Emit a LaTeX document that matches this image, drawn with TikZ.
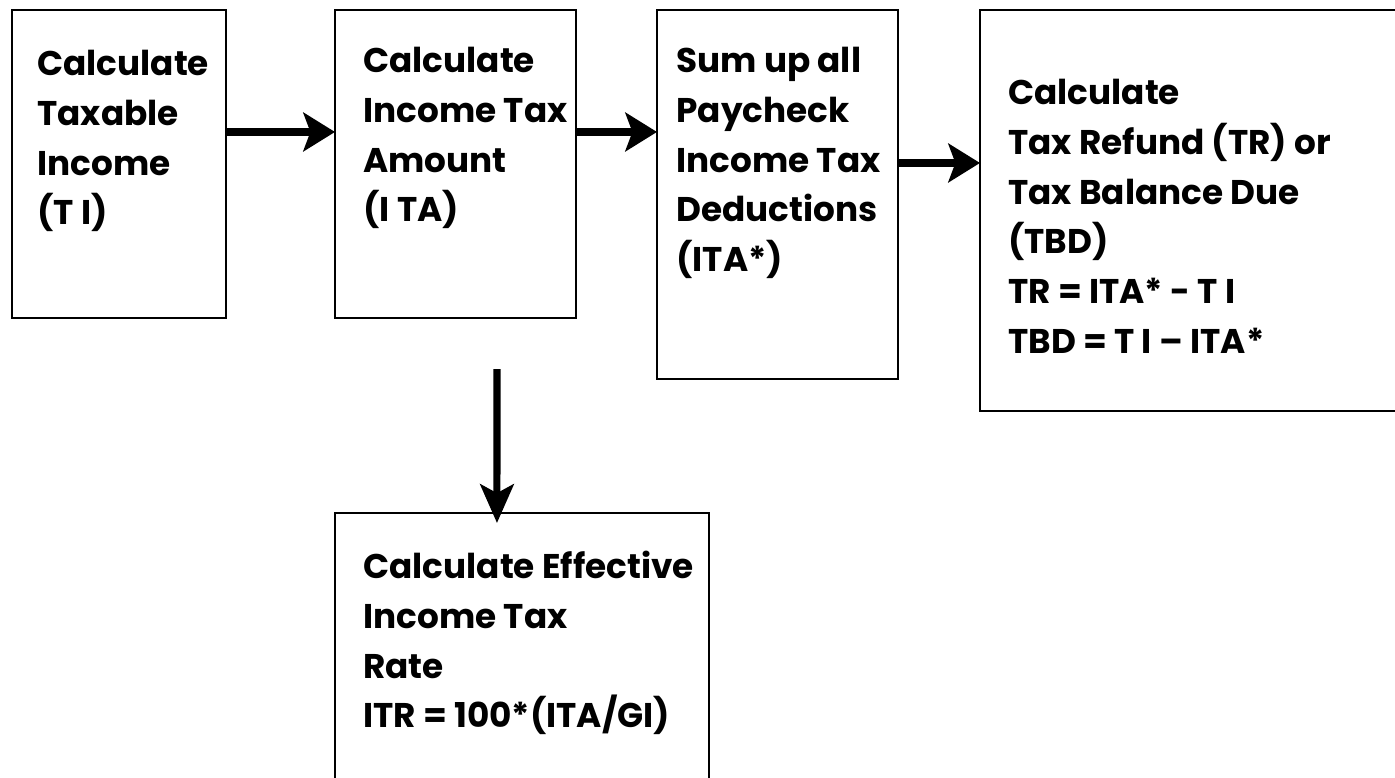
\documentclass[tikz,border=0pt]{standalone}
\usepackage{fontspec}
\setmainfont{Poppins}
\usetikzlibrary{positioning}
\usetikzlibrary{arrows.meta}
\tikzset{
  box/.style      = {shape=rectangle, draw, line width=1.1pt,
                     anchor=north west, outer sep=0pt, inner sep=0pt},
  boxtext/.style  = {align=left, inner sep=0pt,
                     font=\fontsize{19.5}{28.3}\selectfont\bfseries},
  flow/.style     = {-{Stealth[length=18pt,width=22pt,inset=4pt]}, line width=4.5pt},
  downflow/.style = {-{Stealth[length=22pt,width=19pt,inset=5pt]}, line width=4pt}
}

\begin{document}
\begin{tikzpicture}[x=0.02cm, y=-0.02cm]
  \useasboundingbox (0,0) rectangle (1395,777);
  % boxes
  \node [box, minimum width=4.28cm, minimum height=6.16cm] (ti) at (12,10) {};
  \node [box, minimum width=4.82cm, minimum height=6.16cm] (ita) at (335,10) {};
  \node [box, minimum width=4.82cm, minimum height=7.38cm] (ded) at (657,10) {};
  \node [box, minimum width=8.40cm, minimum height=8.02cm] (due) at (980,10) {};
  \node [box, minimum width=7.48cm, minimum height=5.54cm] (itr) at (335,513) {};
  % texts
  \node [boxtext, below right=0.80cm and 0.50cm of ti.north west] (tiText)
    {Calculate\\Taxable\\Income\\(T I)};
  \node [boxtext, below right=0.74cm and 0.56cm of ita.north west] (itaText)
    {Calculate\\Income Tax\\Amount\\(I TA)};
  \node [boxtext, below right=0.74cm and 0.38cm of ded.north west] (dedText)
    {Sum up all\\Paycheck\\Income Tax\\Deductions\\(ITA*)};
  \node [boxtext, below right=1.38cm and 0.56cm of due.north west] (dueText)
    {Calculate\\Tax Refund (TR) or\\Tax Balance Due\\(TBD)\\TR = ITA* - T I\\TBD = T I – ITA*};
  \node [boxtext, below right=0.76cm and 0.56cm of itr.north west] (itrText)
    {Calculate Effective\\Income Tax\\Rate\\ITR = 100*(ITA/GI)};
  % arrows
  \coordinate (itrTop) at (497,369);
  \path[flow] ([yshift=0.64cm]ti.east) edge ([yshift=0.64cm]ita.west);
  \path[flow] ([yshift=0.64cm]ita.east) edge ([yshift=1.25cm]ded.west);
  \path[flow] ([yshift=0.63cm]ded.east) edge ([yshift=0.95cm]due.west);
  \path[downflow] (itrTop) edge ([xshift=-0.5cm, yshift=-0.2cm]itr.north);
\end{tikzpicture}
\end{document}
